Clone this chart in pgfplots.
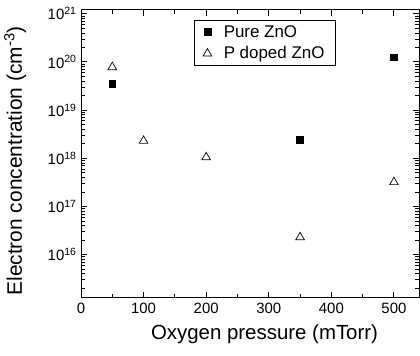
\documentclass[border=0pt]{standalone}
\usepackage{pgfplots}
\pgfplotsset{compat=1.18}
\usepackage{fontspec}
\setmainfont{Liberation Sans}
\begin{document}
\begin{tikzpicture}
\begin{axis}[
  at={(0,0)}, anchor=south west,
  scale only axis,
  width=338bp, height=288bp,
  xmin=0, xmax=540,
  ymode=log, log basis y=10,
  ymin=1.26e15, ymax=1.2e21,
  xtick={0,100,200,300,400,500},
  xticklabels={0,100,200,300,400,500},
  minor x tick num=1,
  ytick={1e16,1e17,1e18,1e19,1e20,1e21},
  yticklabels={10\textsuperscript{16},10\textsuperscript{17},10\textsuperscript{18},10\textsuperscript{19},10\textsuperscript{20},10\textsuperscript{21}},
  minor ytick={2e15,3e15,4e15,5e15,6e15,7e15,8e15,9e15,
    2e16,3e16,4e16,5e16,6e16,7e16,8e16,9e16,
    2e17,3e17,4e17,5e17,6e17,7e17,8e17,9e17,
    2e18,3e18,4e18,5e18,6e18,7e18,8e18,9e18,
    2e19,3e19,4e19,5e19,6e19,7e19,8e19,9e19,
    2e20,3e20,4e20,5e20,6e20,7e20,8e20,9e20},
  tick align=inside,
  major tick length=6bp, minor tick length=4bp,
  every tick/.style={black, line width=1pt},
  every minor tick/.style={black, line width=0.8pt},
  axis line style={line width=1pt},
  ticklabel style={font=\fontsize{15}{17}\selectfont},
  xticklabel style={yshift=-2bp},
  yticklabel style={xshift=-1bp},
  xlabel={Oxygen pressure (mTorr)},
  ylabel={Electron concentration (cm\textsuperscript{-3})},
  xlabel style={font=\fontsize{20.5}{23}\selectfont, at={(axis description cs:0.543,0)}, anchor=north, yshift=-23bp},
  ylabel style={font=\fontsize{21}{24}\selectfont, at={(axis description cs:-0.195,0.476)}, anchor=center},
  legend style={at={(axis description cs:0.334,0.965)}, anchor=north west,
    draw=black, line width=0.5pt, font=\fontsize{17}{19}\selectfont,
    row sep=4bp, inner xsep=9bp, inner ysep=3bp,
    /tikz/every odd column/.append style={column sep=10bp}},
  legend cell align=left,
]
\addplot[only marks, mark=square*, mark size=3.4pt, black] coordinates {
  (50,3.5e19) (350,2.4e18) (500,1.25e20)
};
\addlegendentry{Pure ZnO}
\addplot[only marks, mark=triangle, mark size=5pt, black, line width=0.7pt] coordinates {
  (50,7.8e19) (100,2.3e18) (200,1.05e18) (350,2.3e16) (500,3.2e17)
};
\addlegendentry{P doped ZnO}
\end{axis}
\pgfresetboundingbox
\path[use as bounding box] (-81bp,-58bp) rectangle (339bp,298bp);
\end{tikzpicture}
\end{document}
